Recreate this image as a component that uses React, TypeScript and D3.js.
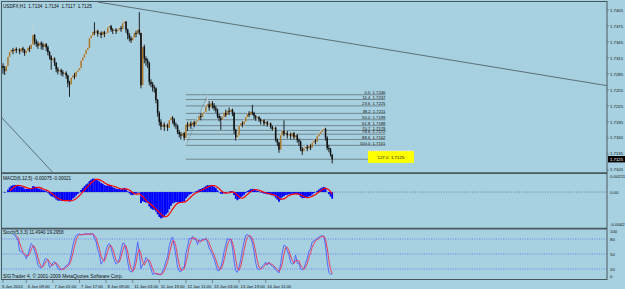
import React from "react";
import * as d3 from "d3";

// ---------- text ----------
const SYMBOL_TITLE = "USDFX,H1  1.7134  1.7134  1.7117  1.7125";
const MACD_TITLE = "MACD(6,12,5) -0.00075 -0.00021";
const STOCH_TITLE = "Stoch(5,3,3) 11.4940 19.2958";
const COPYRIGHT = "SIGTrader 4, \u00a9 2001-2009 MetaQuotes Software Corp.";
const CURRENT_PRICE = 1.7125;

// ---------- price data (pips above BASE) ----------
const BASE = 1.71;
const PIP = 0.0001;
const OPEN0 = 200;
const closes = [
  196, 190, 200, 217, 226, 230, 228, 232, 229, 231,
  227, 233, 230, 224, 228, 234, 232, 240, 258, 246,
  242, 238, 243, 240, 236, 241, 235, 226, 218, 211,
  214, 206, 194, 190, 192, 188, 185, 187, 182, 168,
  165, 178, 182, 180, 189, 192, 196, 210, 216, 222,
  230, 234, 252, 257, 264, 262, 266, 260, 262, 258,
  264, 260, 262, 272, 275, 268, 266, 268, 265, 268,
  271, 269, 280, 283, 268, 258, 252, 248, 253, 262,
  260, 268, 262, 164, 236, 214, 210, 205, 170, 166,
  160, 158, 136, 112, 95, 86, 90, 86, 89, 84,
  98, 103, 100, 90, 88, 76, 72, 69, 74, 65,
  90, 86, 92, 88, 94, 90, 96, 98, 106, 104,
  112, 114, 124, 128, 122, 130, 126, 121, 118, 106,
  102, 99, 104, 112, 108, 116, 114, 118, 112, 80,
  66, 70, 88, 92, 90, 96, 104, 110, 108, 114,
  112, 106, 102, 104, 100, 96, 98, 92, 95, 90,
  92, 86, 82, 84, 62, 56, 43, 70, 78, 72,
  74, 70, 72, 68, 74, 66, 70, 61, 58, 44,
  40, 46, 48, 45, 50, 47, 56, 60, 58, 68,
  72, 76, 80, 82, 65, 46, 44, 34, 25,
];
const highs = [
  205, 200, 205, 220, 230, 235, 234, 236, 235, 237,
  233, 238, 236, 232, 234, 240, 238, 246, 279, 260,
  250, 246, 248, 246, 244, 247, 243, 238, 228, 220,
  218, 216, 207, 198, 198, 195, 192, 192, 190, 184,
  172, 182, 186, 187, 192, 196, 200, 214, 220, 226,
  234, 240, 256, 262, 268, 282, 271, 268, 267, 265,
  268, 266, 268, 276, 286, 277, 271, 273, 271, 272,
  276, 275, 284, 292, 284, 270, 262, 256, 258, 266,
  266, 275, 301, 262, 268, 240, 218, 214, 208, 175,
  170, 164, 160, 138, 115, 100, 96, 94, 95, 92,
  101, 108, 106, 102, 94, 90, 80, 76, 78, 76,
  98, 95, 97, 96, 99, 97, 100, 104, 110, 112,
  116, 120, 130, 146, 134, 136, 134, 130, 125, 120,
  110, 106, 108, 116, 118, 120, 122, 124, 120, 114,
  82, 76, 92, 97, 96, 100, 108, 114, 115, 118,
  127, 114, 108, 108, 106, 102, 102, 100, 99, 97,
  96, 94, 88, 88, 86, 64, 58, 74, 82, 98,
  80, 78, 76, 75, 78, 76, 74, 72, 64, 60,
  48, 50, 52, 52, 54, 53, 60, 64, 63, 72,
  76, 80, 85, 86, 84, 68, 52, 46, 34,
];
const lows = [
  185, 183, 188, 198, 214, 222, 222, 225, 224, 226,
  222, 226, 225, 219, 222, 226, 226, 230, 236, 240,
  236, 232, 233, 231, 230, 233, 228, 220, 212, 193,
  205, 200, 188, 184, 186, 182, 180, 181, 176, 160,
  142, 163, 174, 175, 178, 186, 189, 194, 206, 212,
  218, 226, 232, 248, 252, 258, 258, 255, 255, 252,
  256, 254, 256, 258, 268, 264, 260, 262, 260, 262,
  264, 264, 266, 276, 262, 250, 246, 243, 245, 250,
  254, 258, 258, 158, 160, 205, 200, 196, 164, 160,
  152, 150, 130, 105, 88, 80, 61, 78, 82, 78,
  82, 94, 92, 86, 82, 72, 66, 62, 64, 60,
  51, 78, 84, 82, 86, 85, 88, 92, 96, 98,
  102, 108, 112, 120, 116, 118, 120, 116, 112, 102,
  96, 80, 96, 100, 104, 105, 108, 110, 106, 72,
  60, 61, 68, 84, 85, 88, 94, 100, 104, 106,
  108, 100, 97, 98, 95, 90, 92, 88, 89, 86,
  86, 82, 78, 78, 58, 50, 37, 42, 68, 68,
  66, 64, 66, 62, 64, 62, 63, 56, 50, 40,
  33, 36, 42, 40, 43, 42, 45, 52, 53, 56,
  64, 70, 72, 76, 60, 42, 38, 30, 17,
];

// ---------- axes ----------
const priceTicks = [1.7405, 1.7375, 1.7345, 1.7315, 1.7285, 1.7255, 1.7225, 1.7195, 1.7165, 1.7135, 1.7105];
const macdTicks = [0.00211, 0, -0.0042];
const macdTickLabels = ["0.00211", "0.00", "-0.0042"];
const stochTicks = [100, 80, 50, 20, 0];
const stochLevels = [80, 50, 20];
const timeBars = [0, 14, 30, 46, 62, 78, 94, 110, 126, 142, 158];
const timeLabels = [
  "5 Jan 2010", "6 Jan 09:00", "7 Jan 01:00", "7 Jan 17:00", "8 Jan 09:00",
  "11 Jan 03:00", "11 Jan 19:00", "12 Jan 11:00", "13 Jan 03:00", "13 Jan 19:00", "14 Jan 11:00",
];

// ---------- objects ----------
const fibRatios = [0.0, 11.4, 23.6, 38.2, 50.0, 61.8, 70.7, 78.6, 88.6, 100.0, 127.0];
const fibPrices = [1.7246, 1.7237, 1.7225, 1.7211, 1.7199, 1.7188, 1.7179, 1.7172, 1.7162, 1.7151, 1.7125];
const fibAnchorBars = [110, 123];
const fibAnchorPrices = [1.7151, 1.7246];
const fibEndBar = 230;
const fibExtEndBar = 219.5;
const trend1Bars = [57, 363.3];
const trend1Prices = [1.742, 1.7263];
const trend2Bars = [-1, 30];
const trend2Prices = [1.7204, 1.71];

// ---------- indicators ----------
function ema(arr: number[], p: number) {
  const a = 2 / (p + 1);
  const out: number[] = [];
  let e = arr[0];
  arr.forEach((v, i) => {
    e = i === 0 ? v : a * v + (1 - a) * e;
    out.push(e);
  });
  return out;
}

export default function App() {
  const W = 625, H = 289;
  const LEFT = 1.5, RIGHT = 607;
  const n = closes.length;
  const bars = d3.range(n).map((i) => {
    const o = BASE + (i === 0 ? OPEN0 : closes[i - 1]) * PIP;
    const c = BASE + closes[i] * PIP;
    const h = Math.max(BASE + highs[i] * PIP, o, c);
    const l = Math.min(BASE + lows[i] * PIP, o, c);
    return { o, h, l, c };
  });

  const x = d3.scaleLinear().domain([0, 363.3]).range([3, 607]);
  const yP = d3.scaleLinear().domain([1.7101, 1.742]).range([172, 2]);
  const yM = d3.scaleLinear().domain([-0.0042, 0.00211]).range([227, 174.5]);
  const yS = d3.scaleLinear().domain([0, 100]).range([279, 229]);

  const cl = bars.map((b) => b.c);
  const e6 = ema(cl, 6), e12 = ema(cl, 12);
  const macd = cl.map((_, i) => e6[i] - e12[i]);
  const signal = macd.map((_, i) => (i < 4 ? null : (d3.mean(macd.slice(i - 4, i + 1)) as number)));

  const kLine: (number | null)[] = bars.map((_, i) => {
    if (i < 6) return null;
    let num = 0, den = 0;
    for (let j = 0; j < 3; j++) {
      const k = i - j;
      const seg = bars.slice(k - 4, k + 1);
      const ll = d3.min(seg, (b) => b.l) as number;
      const hh = d3.max(seg, (b) => b.h) as number;
      num += bars[k].c - ll;
      den += hh - ll;
    }
    return den === 0 ? 100 : (100 * num) / den;
  });
  const dLine: (number | null)[] = kLine.map((_, i) =>
    i < 8 ? null : ((kLine[i] as number) + (kLine[i - 1] as number) + (kLine[i - 2] as number)) / 3
  );

  const lineGen = (ys: d3.ScaleLinear<number, number>) =>
    d3
      .line<number | null>()
      .defined((d) => d !== null)
      .x((_, i) => x(i))
      .y((d) => ys(d as number));

  const font = "'Liberation Sans', Arial, sans-serif";
  const fs = 4.6;
  const bg = "#a7d0e0";
  const border = "#4a585e";
  const txt = "#111";

  const clampY = (v: number, top: number, bot: number) => Math.max(top + 2.6, Math.min(bot - 2.4, v));

  return (
    <svg
      width={W}
      height={H}
      viewBox={`0 0 ${W} ${H}`}
      style={{ position: "absolute", left: 0, top: 0, background: bg }}
      fontFamily={font}
      fontSize={fs}
    >
      <defs>
        <clipPath id="mainClip">
          <rect x={LEFT} y={2} width={RIGHT - LEFT} height={170} />
        </clipPath>
      </defs>
      <rect x={0} y={0} width={W} height={H} fill={bg} />

      {/* ---------- main panel ---------- */}
      <g clipPath="url(#mainClip)">
        <line x1={x(trend1Bars[0])} y1={yP(trend1Prices[0])} x2={x(trend1Bars[1])} y2={yP(trend1Prices[1])} stroke="#56646a" strokeWidth={0.9} />
        <line x1={x(trend2Bars[0])} y1={yP(trend2Prices[0])} x2={x(trend2Bars[1])} y2={yP(trend2Prices[1])} stroke="#56646a" strokeWidth={0.9} />

        {fibPrices.map((p, k) => {
          const isExt = fibRatios[k] === 127.0;
          const x1 = x(fibAnchorBars[0]);
          const x2 = isExt ? x(fibExtEndBar) : x(fibEndBar);
          return (
            <g key={"fib" + k}>
              <line x1={x1} x2={x2} y1={yP(p)} y2={yP(p)} stroke="#66737a" strokeWidth={0.8} />
              {!isExt && (
                <text x={x2} y={yP(p) - 0.7} textAnchor="end" fill={txt} fontSize={4.2} style={{ whiteSpace: "pre" }}>
                  {fibRatios[k].toFixed(1) + "  " + p.toFixed(4)}
                </text>
              )}
            </g>
          );
        })}
        <line
          x1={x(fibAnchorBars[0])}
          y1={yP(fibAnchorPrices[0])}
          x2={x(fibAnchorBars[1])}
          y2={yP(fibAnchorPrices[1])}
          stroke="#55646a"
          strokeWidth={0.7}
          strokeDasharray="1 1"
        />

        {bars.map((b, i) => {
          const cx = x(i);
          const up = b.c > b.o;
          const top = yP(Math.max(b.o, b.c));
          const bot = yP(Math.min(b.o, b.c));
          return (
            <g key={"c" + i}>
              <line x1={cx} x2={cx} y1={yP(b.h)} y2={yP(b.l)} stroke={up ? "#c4d2d8" : "#101010"} strokeWidth={0.9} />
              <rect x={cx - 0.75} y={top} width={1.5} height={Math.max(0.8, bot - top)} fill={up ? "#a8772a" : "#101010"} />
            </g>
          );
        })}
      </g>

      {/* 127 label box */}
      <rect x={x(fibExtEndBar)} y={yP(fibPrices[10]) - 8.3} width={46} height={12} fill="#ffff00" />
      <line x1={x(fibExtEndBar)} x2={x(fibExtEndBar) + 46} y1={yP(fibPrices[10]) - 8.3} y2={yP(fibPrices[10]) - 8.3} stroke="#ffffff" strokeWidth={0.8} strokeDasharray="1 1" />
      <text x={x(fibExtEndBar) + 23} y={yP(fibPrices[10]) - 0.6} textAnchor="middle" fill={txt} fontSize={4.4} style={{ whiteSpace: "pre" }}>
        {fibRatios[10].toFixed(1) + "  " + fibPrices[10].toFixed(4)}
      </text>

      <text x={3} y={7.6} fill={txt} style={{ whiteSpace: "pre" }}>{SYMBOL_TITLE}</text>

      {/* price axis */}
      {priceTicks.map((p) => (
        <g key={"pt" + p}>
          <line x1={RIGHT} x2={RIGHT + 2} y1={yP(p)} y2={yP(p)} stroke={border} strokeWidth={0.6} />
          <text x={RIGHT + 3} y={yP(p) + 1.6} fill={txt} fontSize={4.3}>{p.toFixed(4)}</text>
        </g>
      ))}
      <rect x={RIGHT + 1} y={yP(CURRENT_PRICE) - 3.2} width={17} height={6.4} fill="#000" />
      <text x={RIGHT + 3} y={yP(CURRENT_PRICE) + 1.6} fill="#fff" fontSize={4.3}>{CURRENT_PRICE.toFixed(4)}</text>

      {/* ---------- MACD panel ---------- */}
      <line x1={LEFT} x2={RIGHT} y1={yM(0)} y2={yM(0)} stroke="#4a585e" strokeWidth={0.7} strokeDasharray="1 1.6" />
      {macd.map((v, i) => (
        <rect
          key={"m" + i}
          x={x(i) - 0.9}
          width={1.8}
          y={Math.min(yM(v), yM(0))}
          height={Math.abs(yM(v) - yM(0))}
          fill="#0000ff"
        />
      ))}
      <path d={lineGen(yM)(signal) || ""} fill="none" stroke="#ff0000" strokeWidth={1.2} />
      <text x={3} y={180.4} fill={txt}>{MACD_TITLE}</text>
      {macdTicks.map((v, k) => (
        <text key={"mt" + k} x={RIGHT + 3} y={clampY(yM(v), 174, 227) + 1.6} fill={txt} fontSize={4.3}>
          {macdTickLabels[k]}
        </text>
      ))}

      {/* ---------- Stochastic panel ---------- */}
      {stochLevels.map((lv) => (
        <line key={"sl" + lv} x1={LEFT} x2={RIGHT} y1={yS(lv)} y2={yS(lv)} stroke="#5a6ef0" strokeWidth={0.8} strokeDasharray="1 1.4" />
      ))}
      <path d={lineGen(yS)(kLine) || ""} fill="none" stroke="#4b5cff" strokeWidth={0.9} />
      <path d={lineGen(yS)(dLine) || ""} fill="none" stroke="#ee3050" strokeWidth={0.9} />
      <text x={3} y={234} fill={txt}>{STOCH_TITLE}</text>
      <text x={3} y={277.5} fill={txt} fontSize={4.9}>{COPYRIGHT}</text>
      {stochTicks.map((v) => (
        <text key={"st" + v} x={RIGHT + 3} y={clampY(yS(v), 229, 279) + 1.6} fill={txt} fontSize={4.3}>
          {v}
        </text>
      ))}

      {/* ---------- frames ---------- */}
      <rect x={LEFT} y={1.5} width={RIGHT - LEFT} height={278} fill="none" stroke={border} strokeWidth={1} />
      <line x1={LEFT} x2={RIGHT} y1={173.2} y2={173.2} stroke={border} strokeWidth={1.8} />
      <line x1={LEFT} x2={RIGHT} y1={228.6} y2={228.6} stroke={border} strokeWidth={1.8} />

      {/* time axis */}
      {timeBars.map((b, k) => (
        <g key={"tb" + k}>
          <line x1={x(b)} x2={x(b)} y1={279.5} y2={283} stroke={border} strokeWidth={0.6} />
          <text x={k === 0 ? 2 : x(b) + 1.5} y={287.6} fill={txt} fontSize={4.2}>{timeLabels[k]}</text>
        </g>
      ))}
    </svg>
  );
}
